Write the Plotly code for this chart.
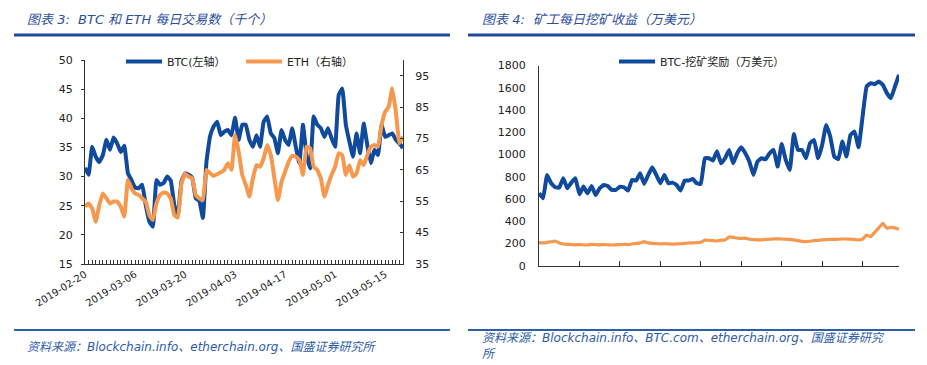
import pandas as pd
import plotly.graph_objects as go

# ---------------- data ----------------
dates = pd.date_range("2019-02-20", periods=90).strftime("%Y-%m-%d").tolist()
label_dates = ["2019-02-20", "2019-03-06", "2019-03-20", "2019-04-03",
               "2019-04-17", "2019-05-01", "2019-05-15"]
right_tick_dates = ["2019-02-20", "2019-03-02", "2019-03-12", "2019-03-22", "2019-04-01",
                    "2019-04-11", "2019-04-21", "2019-05-01", "2019-05-11"]

btc_tx = [31.5, 30.3, 35.1, 33.4, 32.5, 33.7, 36.3, 34.6, 36.7, 35.7,
          34.2, 35.3, 30.6, 29.4, 28.1, 28.0, 28.6, 25.1, 22.3, 21.4,
          29.4, 28.6, 28.9, 30.0, 29.3, 25.1, 23.4, 29.2, 30.5, 30.3,
          29.8, 26.3, 25.8, 22.9, 32.6, 36.9, 38.6, 39.4, 37.1, 37.7,
          38.0, 37.1, 40.1, 36.3, 38.9, 38.9, 36.3, 35.1, 37.1, 35.1,
          39.4, 40.3, 37.4, 36.6, 34.0, 38.0, 36.3, 35.4, 38.3, 35.1,
          32.3, 38.9, 33.7, 31.4, 40.3, 38.9, 38.3, 36.8, 38.3, 36.6,
          35.1, 44.0, 45.1, 38.9, 36.0, 33.4, 37.4, 34.0, 39.1, 35.4,
          32.3, 34.6, 33.7, 38.9, 36.8, 37.1, 37.4, 36.3, 35.7, 34.9]

eth_tx = [53.3, 54.3, 52.7, 48.5, 53.8, 57.5, 55.9, 54.3, 54.9, 54.9,
          53.3, 50.1, 61.8, 59.1, 57.5, 57.0, 55.9, 54.9, 50.6, 49.0,
          54.3, 57.0, 57.8, 57.5, 55.9, 50.6, 49.8, 60.7, 63.7, 62.8,
          62.3, 57.0, 55.9, 55.4, 65.0, 63.9, 63.1, 63.6, 64.2, 65.0,
          67.1, 65.0, 76.1, 70.8, 63.4, 60.2, 56.5, 62.3, 66.5, 66.0,
          68.7, 72.9, 69.7, 62.3, 55.4, 61.2, 64.4, 67.6, 69.5, 69.2,
          68.1, 63.4, 72.4, 71.9, 66.0, 65.0, 62.3, 56.5, 60.2, 63.4,
          66.0, 70.3, 69.7, 63.4, 66.5, 62.8, 63.9, 68.1, 66.5, 69.7,
          72.4, 72.9, 72.4, 79.3, 83.5, 85.1, 91.0, 83.5, 73.5, 75.6]

btc_mining = [651, 606, 816, 741, 705, 702, 786, 696, 747, 786,
              642, 711, 651, 717, 636, 696, 726, 717, 681, 681,
              711, 705, 675, 771, 765, 831, 735, 816, 885, 816,
              741, 816, 741, 747, 726, 675, 765, 765, 780, 741,
              735, 966, 966, 945, 1030, 921, 966, 1041, 921, 1011,
              1065, 1011, 936, 816, 936, 966, 957, 1011, 1041, 891,
              1095, 951, 861, 1185, 1041, 1041, 966, 1101, 1131, 966,
              1086, 1266, 1161, 981, 957, 1116, 981, 1176, 1206, 1065,
              1341, 1611, 1641, 1632, 1656, 1626, 1551, 1506, 1611, 1716]

eth_mining = [207, 205, 210, 215, 222, 205, 195, 192, 190, 188,
              190, 188, 186, 192, 190, 188, 190, 188, 186, 188,
              190, 192, 190, 195, 200, 205, 216, 205, 200, 198,
              196, 198, 196, 194, 196, 198, 200, 205, 205, 208,
              210, 231, 228, 225, 222, 230, 232, 258, 255, 248,
              245, 248, 238, 235, 232, 232, 236, 238, 240, 242,
              240, 238, 236, 232, 225, 218, 216, 220, 225, 228,
              232, 235, 236, 237, 238, 240, 240, 238, 236, 231,
              240, 276, 261, 300, 340, 381, 336, 345, 340, 327]

# ---------------- styles ----------------
OFF = 8                      # default page margin of the html body
W, H = 927 - OFF, 365 - OFF  # figure size so that it fits the window
BLUE = "#104A9C"
ORANGE = "#F6984D"
TITLE_BLUE = "#2B4F9E"
TXT = "#222222"
FONT = "DejaVu Sans, Noto Sans CJK SC, sans-serif"


def px_x(x):
    return (x - OFF) / W


def px_y(y):
    return (H - (y - OFF)) / H


fig = go.Figure()
fig.add_trace(go.Scatter(x=dates, y=btc_tx, name="BTC(左轴）", mode="lines",
                         line=dict(color=BLUE, width=4, shape="spline", smoothing=0.3),
                         xaxis="x", yaxis="y", legend="legend"))
fig.add_trace(go.Scatter(x=dates, y=eth_tx, name="ETH（右轴）", mode="lines",
                         line=dict(color=ORANGE, width=4, shape="spline", smoothing=0.3),
                         xaxis="x", yaxis="y2", legend="legend"))
fig.add_trace(go.Scatter(x=dates, y=btc_mining, name="BTC-挖矿奖励（万美元）", mode="lines",
                         line=dict(color=BLUE, width=4, shape="spline", smoothing=0.3),
                         xaxis="x2", yaxis="y3", legend="legend2"))
fig.add_trace(go.Scatter(x=dates, y=eth_mining, name="ETH", mode="lines", showlegend=False,
                         line=dict(color=ORANGE, width=3.2, shape="spline", smoothing=0.3),
                         xaxis="x2", yaxis="y3"))

tickfont = dict(family=FONT, size=10, color=TXT)
yfont = dict(family=FONT, size=11, color=TXT)
xrange = ["2019-02-20", "2019-05-20"]

fig.update_layout(
    width=W, height=H,
    margin=dict(l=0, r=0, t=0, b=0, pad=0, autoexpand=False),
    paper_bgcolor="white", plot_bgcolor="white",
    font=dict(family=FONT, color=TXT),
    xaxis=dict(domain=[px_x(85), px_x(403)], anchor="y", type="date", range=xrange,
               tickvals=label_dates, ticktext=label_dates, tickangle=-32, tickfont=tickfont,
               showline=True, linecolor="#333", linewidth=1, showgrid=False, zeroline=False,
               ticks="inside", ticklen=4, tickcolor="#333", automargin=False,
               minor=dict(ticks="inside", ticklen=4, dtick=86400000, tick0="2019-02-20",
                          tickcolor="#333", showgrid=False)),
    yaxis=dict(domain=[px_y(264), px_y(60)], anchor="x", range=[15, 50], dtick=5,
               tickfont=yfont, showline=True, linecolor="#333", linewidth=1,
               ticks="outside", ticklen=3, tickcolor="#333", showgrid=False, zeroline=False,
               ticklabelstandoff=6, automargin=False),
    yaxis2=dict(overlaying="y", anchor="x", side="right", range=[35, 100],
                tickvals=[35, 45, 55, 65, 75, 85, 95], tickfont=yfont,
                showline=True, linecolor="#333", linewidth=1, ticks="inside", ticklen=3,
                tickcolor="#333", showgrid=False, zeroline=False, ticklabelstandoff=9,
                automargin=False),
    xaxis2=dict(domain=[px_x(539), px_x(899)], anchor="y3", type="date", range=xrange,
                tickvals=right_tick_dates, showticklabels=False,
                showline=True, linecolor="#333", linewidth=1, showgrid=False, zeroline=False,
                ticks="inside", ticklen=5, tickcolor="#333", automargin=False),
    xaxis3=dict(overlaying="x2", anchor="y3", side="bottom", type="date", range=xrange,
                tickvals=label_dates, ticktext=label_dates, tickangle=-32, tickfont=tickfont,
                showline=False, showgrid=False, zeroline=False, ticks="", automargin=False),
    yaxis3=dict(domain=[px_y(265.7), px_y(65.5)], anchor="x2", range=[0, 1800], dtick=200,
                tickfont=yfont, showline=True, linecolor="#333", linewidth=1,
                ticks="", showgrid=False, zeroline=False, ticklabelstandoff=10,
                automargin=False),
    legend=dict(x=px_x(121), y=px_y(47), xanchor="left", yanchor="top", orientation="h",
                bgcolor="rgba(0,0,0,0)", font=dict(family=FONT, size=11, color=TXT),
                itemwidth=36, tracegroupgap=0, entrywidth=69, entrywidthmode="pixels"),
    legend2=dict(x=px_x(614), y=px_y(47), xanchor="left", yanchor="top", orientation="h",
                 bgcolor="rgba(0,0,0,0)", font=dict(family=FONT, size=11, color=TXT),
                 itemwidth=36),
    showlegend=True,
)

# titles, rules and source notes
fig.add_annotation(text="<i>图表 3:  BTC 和 ETH 每日交易数（千个）</i>", xref="paper", yref="paper",
                   x=px_x(25), y=px_y(20), xanchor="left", yanchor="middle", showarrow=False,
                   font=dict(family=FONT, size=13, color=TITLE_BLUE))
fig.add_annotation(text="<i>图表 4:  矿工每日挖矿收益（万美元）</i>", xref="paper", yref="paper",
                   x=px_x(480), y=px_y(20), xanchor="left", yanchor="middle", showarrow=False,
                   font=dict(family=FONT, size=13, color=TITLE_BLUE))
fig.add_annotation(text="<i>资料来源：Blockchain.info、etherchain.org、国盛证券研究所</i>",
                   xref="paper", yref="paper", x=px_x(25), y=px_y(347), xanchor="left",
                   yanchor="middle", showarrow=False,
                   font=dict(family=FONT, size=12, color="#2E5CA8"))
fig.add_annotation(text="<i>资料来源：Blockchain.info、BTC.com、etherchain.org、国盛证券研究<br>所</i>",
                   xref="paper", yref="paper", x=px_x(480), y=px_y(346), xanchor="left",
                   yanchor="middle", align="left", showarrow=False,
                   font=dict(family=FONT, size=12, color="#2E5CA8"))

for x0, x1 in [(14, 450), (468, 915)]:
    fig.add_shape(type="line", xref="paper", yref="paper", x0=px_x(x0), x1=px_x(x1),
                  y0=px_y(35), y1=px_y(35), line=dict(color="#1F4A9A", width=3))
    fig.add_shape(type="line", xref="paper", yref="paper", x0=px_x(x0), x1=px_x(x1),
                  y0=px_y(330), y1=px_y(330), line=dict(color="#2E5DAA", width=2))

fig.write_html("out.html")
